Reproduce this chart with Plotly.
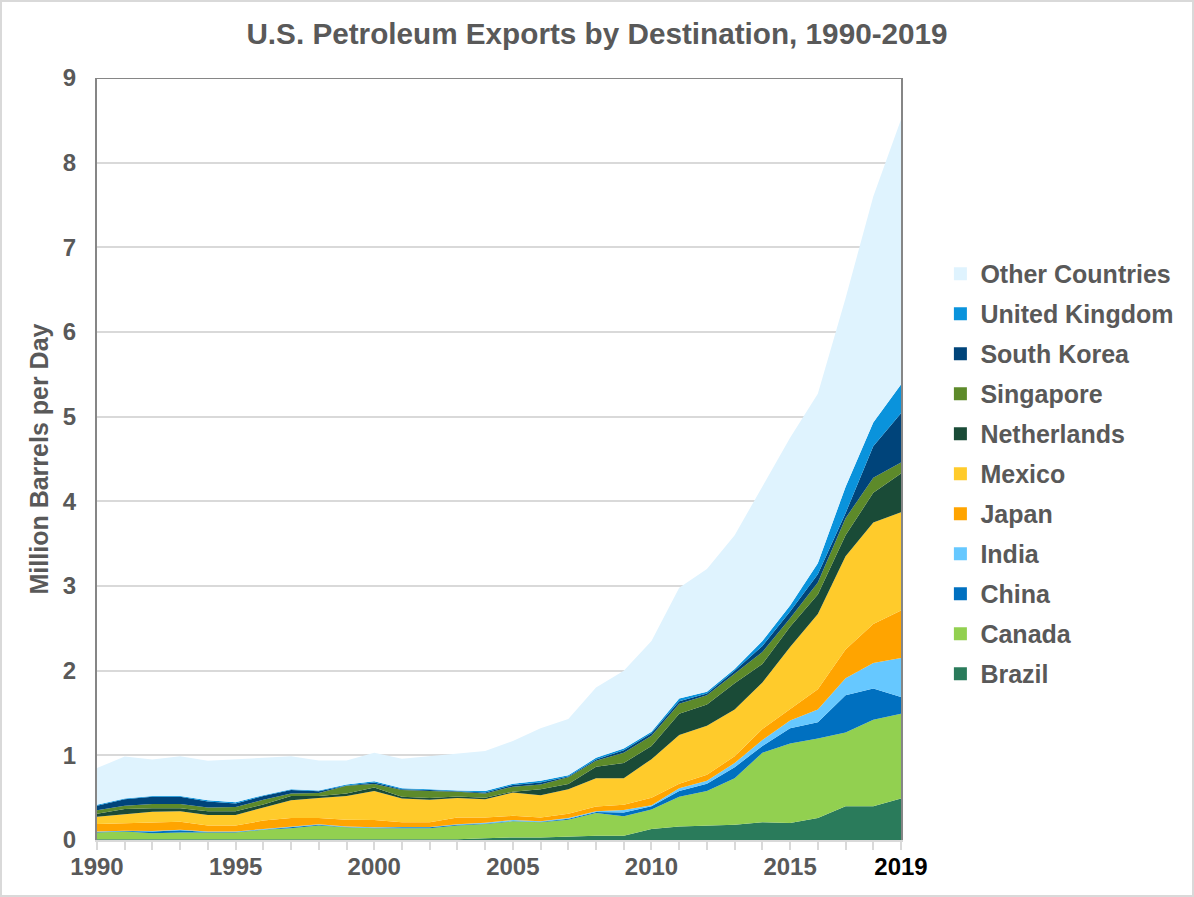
import plotly.graph_objects as go

years = list(range(1990, 2020))
brazil = [.01,.01,.01,.01,.01,.01,.01,.01,.01,.01,.01,.01,.01,.01,.02,.03,.03,.04,.05,.05,.13,.16,.17,.18,.21,.20,.26,.40,.40,.49]
canada = [.08,.09,.07,.08,.08,.08,.11,.13,.16,.14,.13,.13,.13,.16,.17,.19,.18,.20,.27,.23,.23,.35,.41,.55,.82,.94,.94,.87,1.02,1.00]
china = [.005,.005,.02,.025,.005,.005,.005,.01,.01,.005,.005,.01,.01,.01,.005,.005,.005,.01,.01,.045,.04,.07,.085,.13,.08,.18,.19,.44,.37,.20]
india = [.005,.005,.005,.005,.005,.005,.005,.005,.005,.005,.005,.005,.005,.005,.01,.01,.005,.01,.01,.03,.01,.03,.035,.05,.07,.09,.15,.20,.30,.46]
japan = [.09,.09,.105,.095,.07,.07,.10,.105,.075,.08,.085,.055,.055,.08,.06,.05,.045,.05,.055,.06,.09,.055,.07,.08,.13,.14,.24,.34,.46,.56]
mexico = [.085,.105,.125,.125,.125,.125,.155,.21,.235,.28,.345,.28,.265,.23,.215,.275,.265,.29,.335,.315,.455,.575,.58,.55,.55,.73,.89,1.10,1.20,1.16]
netherlands = [.035,.06,.04,.035,.045,.045,.035,.05,.025,.03,.04,.02,.02,.02,.02,.01,.07,.06,.135,.18,.155,.25,.25,.31,.22,.24,.23,.25,.35,.46]
singapore = [.04,.04,.05,.05,.045,.05,.055,.03,.035,.09,.04,.08,.085,.055,.05,.06,.055,.08,.07,.12,.12,.12,.11,.12,.14,.10,.14,.20,.18,.13]
south_korea = [.055,.075,.085,.085,.07,.04,.045,.04,.02,.005,.02,.01,.01,.005,.01,.02,.025,.01,.015,.03,.03,.03,.02,.03,.07,.08,.10,.06,.37,.58]
united_kingdom = [.01,.01,.01,.01,.015,.015,.01,.01,.01,.01,.015,.01,.01,.01,.02,.015,.02,.015,.02,.02,.02,.03,.02,.02,.06,.07,.13,.31,.28,.34]
other = [.435,.495,.43,.47,.465,.505,.44,.39,.355,.285,.335,.35,.39,.435,.47,.505,.62,.665,.83,.92,1.07,1.31,1.45,1.58,1.82,1.98,2.0,2.23,2.67,3.13]

series_names = ["Brazil","Canada","China","India","Japan","Mexico","Netherlands","Singapore","South Korea","United Kingdom","Other Countries"]
series_values = [brazil,canada,china,india,japan,mexico,netherlands,singapore,south_korea,united_kingdom,other]
series_colors = ["#2A7B5B","#92D050","#0070C0","#66C8FF","#FFA400","#FFCB2B","#1A4B37","#5D8A2A","#00447A","#0A93DC","#DFF3FE"]
labelled_years = [1990,1995,2000,2005,2010,2015]
GRAY = "#595959"
W, H = 1194, 897
ML, MR, MT, MB = 97, 293, 78, 57
PW, PH = W - ML - MR, H - MT - MB

fig = go.Figure()
# Legend keys first (top to bottom order of the reference legend), square swatches
for name, col in zip(series_names[::-1], series_colors[::-1]):
    fig.add_trace(go.Scatter(x=[None], y=[None], name=name, mode="markers", legendgroup=name,
                             marker=dict(symbol="square", size=13, color=col), hoverinfo="skip"))
for name, vals, col in zip(series_names, series_values, series_colors):
    fig.add_trace(go.Scatter(x=years, y=vals, name=name, mode="lines", stackgroup="one", showlegend=False,
                             line=dict(width=0, color=col), fillcolor=col, legendgroup=name))

ticktext = []
for y in years:
    if y in labelled_years:
        ticktext.append(str(y))
    elif y == 2019:
        ticktext.append('<span style="color:#000000">2019</span>')
    else:
        ticktext.append("")

fig.update_layout(
    width=W, height=H, autosize=False,
    margin=dict(l=ML, r=MR, t=MT, b=MB),
    paper_bgcolor="white", plot_bgcolor="white",
    font=dict(family="Liberation Sans, Arial, sans-serif", size=24, color=GRAY, weight="bold"),
    title=dict(text="<b>U.S. Petroleum Exports by Destination, 1990-2019</b>", x=0.5, xanchor="center",
               y=0.9625, yanchor="middle", font=dict(size=29.7, color=GRAY)),
    xaxis=dict(range=[1990,2019], tickmode="array", tickvals=years, ticktext=ticktext,
               ticks="outside", ticklen=8, tickcolor="#D9D9D9", tickwidth=2, tickangle=0, ticklabelstandoff=-4,
               showgrid=False, zeroline=False, showline=True, linecolor="#D9D9D9", linewidth=2),
    yaxis=dict(range=[0,9], tickmode="array", tickvals=list(range(10)), ticks="", ticklabelstandoff=14,
               showgrid=True, gridcolor="#D9D9D9", gridwidth=2, zeroline=False,
               showline=True, linecolor="#868686", linewidth=2, mirror=True,
               title=dict(text="Million Barrels per Day", standoff=7, font=dict(size=25, color=GRAY))),
    legend=dict(x=1.049, xref="paper", xanchor="left", y=0.773, yref="paper", yanchor="top",
                traceorder="grouped", tracegroupgap=4.5, itemwidth=30,
                font=dict(size=25, color=GRAY), bgcolor="rgba(0,0,0,0)"),
    shapes=[
        dict(type="line", xref="paper", x0=0, x1=1, yref="y", y0=9, y1=9,
             line=dict(color="#868686", width=2)),
        # thin frame around the whole picture
        dict(type="rect", xref="paper", yref="paper",
             x0=(1 - ML) / PW, x1=(W - 1 - ML) / PW,
             y0=(MB - H + 1 + H - MB - PH - MT + MT) / PH * 0 + (-(MB - 1)) / PH, y1=(PH + MT - 1) / PH,
             line=dict(color="#D9D9D9", width=2), fillcolor="rgba(0,0,0,0)"),
    ],
)
fig.write_html("out.html", config=dict(displayModeBar=False),
               post_script="document.body.style.margin='0';")
